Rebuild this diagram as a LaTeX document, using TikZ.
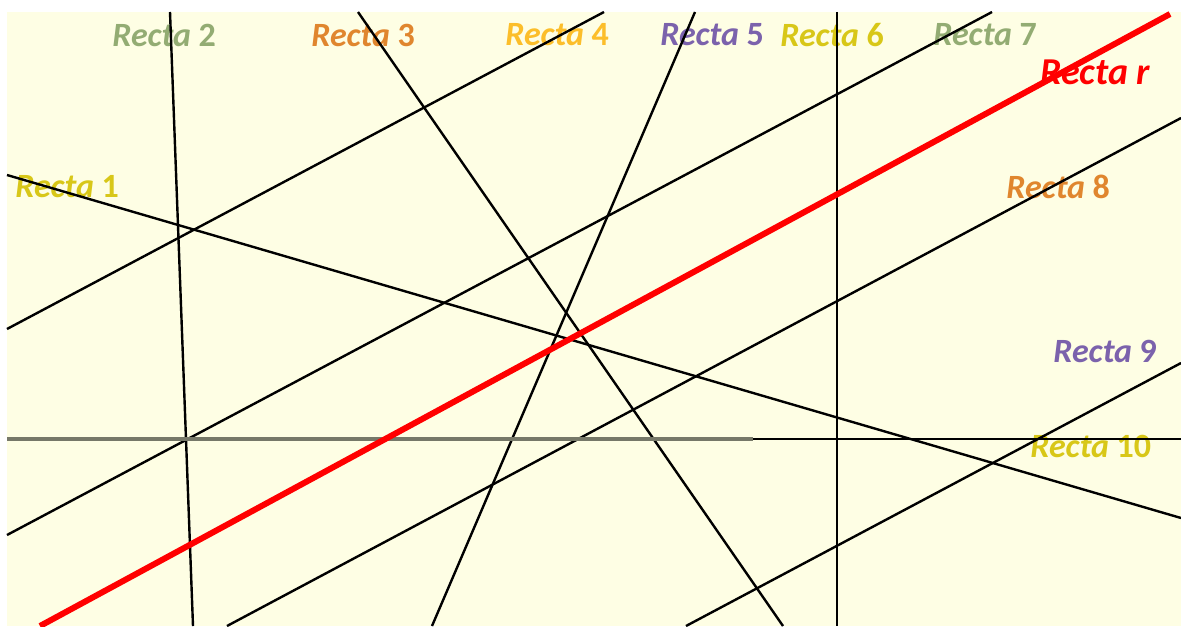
\documentclass[tikz,border=0pt]{standalone}
\usepackage{fontspec}
\setmainfont{Carlito}
\definecolor{paper}{HTML}{FEFEE4}
\definecolor{rsage}{HTML}{93AC73}
\definecolor{rorange}{HTML}{E0862E}
\definecolor{rgold}{HTML}{FCBE2A}
\definecolor{rpurple}{HTML}{7B62AC}
\definecolor{ryellow}{HTML}{D8C718}
\definecolor{hgray}{HTML}{767868}

\begin{document}
\begin{tikzpicture}[x=0.5pt,y=-0.5pt,
  recta/.style={draw=black,line width=1.2pt},
  rroja/.style={draw=red,line width=3pt},
  etiqueta/.style={anchor=west,inner sep=0pt,font=\fontsize{17}{17}\selectfont\bfseries}
]
\useasboundingbox (0,0) rectangle (1181,626);
\fill[paper] (7,12) rectangle (1181,626);

% labels
\node[etiqueta,text=ryellow] (e1) at (15,187) {\textit{Recta} 1};
\node[etiqueta,text=rsage] (e2) at (112,35) {\textit{Recta} 2};
\node[etiqueta,text=rorange] (e3) at (311,35) {\textit{Recta} 3};
\node[etiqueta,text=rgold] (e4) at (505,35) {\textit{Recta} 4};
\node[etiqueta,text=rpurple] (e5) at (660,35) {\textit{Recta} 5};
\node[etiqueta,text=ryellow] (e6) at (780,35) {\textit{Recta} 6};
\node[etiqueta,text=rsage] (e7) at (933,35) {\textit{Recta} 7};
\node[etiqueta,text=red,font=\fontsize{19}{19}\selectfont\bfseries\itshape] (er) at (1040,72) {Recta r};
\node[etiqueta,text=rorange] (e8) at (1006,187) {\textit{Recta} 8};
\node[etiqueta,text=rpurple] (e9) at (1053,351) {\textit{Recta} 9};
\node[etiqueta,text=ryellow] (e10) at (1030,446) {\textit{Recta} 10};

% end points of the lines
\coordinate (a1) at (7,175);    \coordinate (b1) at (1181,518);
\coordinate (a2) at (170,12);   \coordinate (b2) at (193,626);
\coordinate (a3) at (358,12);   \coordinate (b3) at (783,626);
\coordinate (a4) at (7,329);    \coordinate (b4) at (604,12);
\coordinate (a5) at (695,12);   \coordinate (b5) at (432,626);
\coordinate (a6) at (837,12);   \coordinate (b6) at (837,626);
\coordinate (a7) at (7,535);    \coordinate (b7) at (992,12);
\coordinate (a8) at (227,626);  \coordinate (b8) at (1181,118);
\coordinate (a9) at (686,626);  \coordinate (b9) at (1181,363);
\coordinate (a10) at (7,439);   \coordinate (b10) at (1181,439);
\coordinate (m10) at (753,439);
\coordinate (ar) at (40,626);   \coordinate (br) at (1170,14);

\foreach \i in {1,...,10}
  \draw[recta] (a\i) -- (b\i);
\draw[hgray,line width=1.8pt] (a10) -- (m10);
\draw[rroja] (ar) -- (br);
\end{tikzpicture}
\end{document}
